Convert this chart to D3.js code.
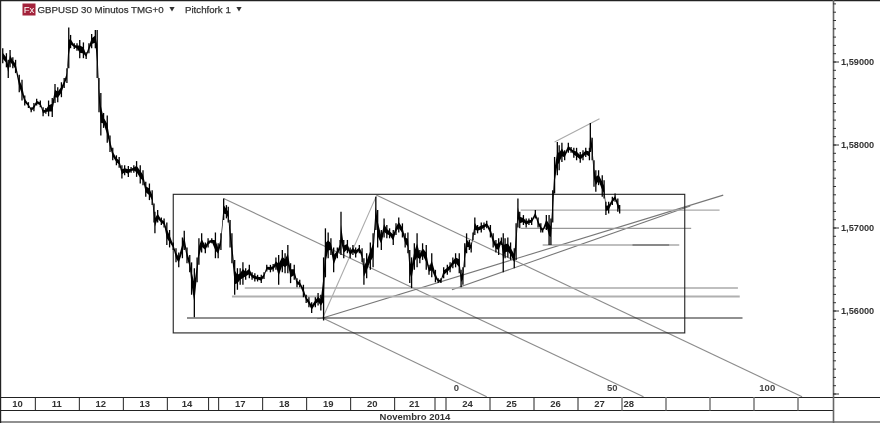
<!DOCTYPE html>
<html>
<head>
<meta charset="utf-8">
<script src="https://cdn.jsdelivr.net/npm/d3@7"></script>
<style>
  html, body { margin: 0; padding: 0; background: #fff; }
  svg { display: block; font-family: "Liberation Sans", Arial, sans-serif; }
  .y-axis path, .x-axis path { display: none; }
</style>
</head>
<body>
<script>
// 30 minute bars, position counted in bars from the left edge of the chart
let barIndex = [3,7,9,11,14,17,21,24,27,31,34,37,40,44,47,50,53,57,60,63,67,70,73,75,77,81,84,87,91,94,97,100,104,106,108,110,113,117,120,123,127,130,133,136,140,143,146,149,153,156,159,163,166,168,169,172,176,179,182,185,189,192,195,199,201,204,207,209,212,215,217,220,224,227,231,235,238,241,244,247,249,251,253,256,259,262,265,268,272,275,278,281,285,288,291,295,298,301,304,308,311,314,317,321,324,327,331,334,337,340,344,347,350,353,355,358,361,364,368,371,372,375,379,382,385,388,392,395,397,400,404,407,410,412,416,419,422,425,429,432,435,439,442,445,447,449,452,455,458,461,465,468,471,475,478,481,484,488,491,494,497,501,503,505,507,509,512,514,516,518,521,525,528,531,535,538,541,544,547,549,551,554,557,561,563,565,567,571,574,577,580,584,587,590,592,596,599,601,603,605,608,610,613,616,620,623,626,629,633,636,639,643,644,646,648,650,653,657,659,661,664,668,671,674,676];

let highs = [1.5916,1.5910,1.5902,1.5914,1.5905,1.5902,1.5884,1.5878,1.5859,1.5851,1.5845,1.5850,1.5855,1.5853,1.5845,1.5844,1.5853,1.5856,1.5873,1.5869,1.5875,1.5880,1.5892,1.5941,1.5932,1.5922,1.5922,1.5926,1.5923,1.5911,1.5922,1.5933,1.5938,1.5938,1.5880,1.5862,1.5838,1.5835,1.5811,1.5796,1.5787,1.5785,1.5775,1.5775,1.5774,1.5773,1.5775,1.5780,1.5775,1.5769,1.5755,1.5753,1.5745,1.5729,1.5719,1.5721,1.5712,1.5711,1.5706,1.5697,1.5682,1.5675,1.5670,1.5688,1.5696,1.5676,1.5667,1.5658,1.5651,1.5664,1.5687,1.5693,1.5682,1.5687,1.5687,1.5694,1.5681,1.5693,1.5735,1.5727,1.5725,1.5709,1.5693,1.5661,1.5651,1.5651,1.5658,1.5651,1.5655,1.5646,1.5645,1.5643,1.5643,1.5646,1.5655,1.5655,1.5656,1.5664,1.5667,1.5673,1.5669,1.5679,1.5657,1.5655,1.5639,1.5637,1.5631,1.5619,1.5616,1.5610,1.5616,1.5621,1.5619,1.5664,1.5699,1.5694,1.5687,1.5676,1.5676,1.5685,1.5719,1.5685,1.5685,1.5676,1.5679,1.5676,1.5679,1.5675,1.5663,1.5669,1.5682,1.5693,1.5737,1.5721,1.5697,1.5711,1.5703,1.5699,1.5697,1.5705,1.5712,1.5705,1.5693,1.5694,1.5673,1.5664,1.5681,1.5693,1.5673,1.5681,1.5679,1.5655,1.5669,1.5649,1.5639,1.5639,1.5652,1.5655,1.5658,1.5664,1.5669,1.5669,1.5649,1.5652,1.5681,1.5693,1.5685,1.5682,1.5694,1.5712,1.5703,1.5706,1.5706,1.5708,1.5703,1.5693,1.5685,1.5687,1.5688,1.5693,1.5687,1.5688,1.5682,1.5675,1.5705,1.5735,1.5719,1.5715,1.5711,1.5711,1.5712,1.5721,1.5712,1.5705,1.5699,1.5715,1.5715,1.5711,1.5745,1.5785,1.5803,1.5799,1.5802,1.5793,1.5802,1.5797,1.5796,1.5796,1.5791,1.5793,1.5796,1.5796,1.5826,1.5808,1.5781,1.5769,1.5769,1.5763,1.5757,1.5731,1.5731,1.5737,1.5741,1.5735,1.5727];

let lows = [1.5898,1.5893,1.5880,1.5893,1.5892,1.5886,1.5863,1.5853,1.5847,1.5844,1.5839,1.5840,1.5847,1.5845,1.5834,1.5837,1.5834,1.5833,1.5850,1.5851,1.5857,1.5868,1.5874,1.5892,1.5916,1.5915,1.5913,1.5904,1.5904,1.5903,1.5910,1.5916,1.5916,1.5880,1.5839,1.5811,1.5820,1.5802,1.5791,1.5781,1.5775,1.5772,1.5759,1.5763,1.5761,1.5766,1.5766,1.5761,1.5753,1.5751,1.5737,1.5733,1.5727,1.5706,1.5693,1.5706,1.5703,1.5700,1.5679,1.5676,1.5673,1.5658,1.5652,1.5663,1.5673,1.5657,1.5646,1.5619,1.5592,1.5634,1.5655,1.5670,1.5669,1.5676,1.5681,1.5663,1.5663,1.5673,1.5709,1.5711,1.5706,1.5676,1.5657,1.5619,1.5625,1.5631,1.5631,1.5637,1.5639,1.5637,1.5635,1.5635,1.5633,1.5638,1.5647,1.5646,1.5647,1.5649,1.5631,1.5646,1.5645,1.5645,1.5633,1.5637,1.5628,1.5628,1.5616,1.5609,1.5604,1.5597,1.5604,1.5606,1.5600,1.5588,1.5640,1.5663,1.5667,1.5646,1.5663,1.5669,1.5667,1.5663,1.5669,1.5663,1.5667,1.5664,1.5669,1.5658,1.5631,1.5639,1.5649,1.5652,1.5697,1.5676,1.5673,1.5688,1.5687,1.5687,1.5679,1.5691,1.5694,1.5688,1.5676,1.5669,1.5633,1.5627,1.5649,1.5652,1.5657,1.5661,1.5649,1.5643,1.5640,1.5634,1.5633,1.5633,1.5639,1.5643,1.5646,1.5651,1.5652,1.5645,1.5628,1.5631,1.5652,1.5669,1.5673,1.5670,1.5685,1.5691,1.5693,1.5694,1.5697,1.5699,1.5688,1.5676,1.5670,1.5667,1.5679,1.5646,1.5663,1.5664,1.5661,1.5651,1.5661,1.5700,1.5699,1.5703,1.5700,1.5703,1.5703,1.5711,1.5700,1.5694,1.5694,1.5697,1.5679,1.5679,1.5706,1.5741,1.5763,1.5769,1.5779,1.5781,1.5790,1.5790,1.5784,1.5781,1.5778,1.5781,1.5785,1.5781,1.5791,1.5781,1.5749,1.5743,1.5751,1.5737,1.5735,1.5715,1.5717,1.5727,1.5731,1.5719,1.5717];

// day separators and day names on the date band
let dayTicks = [38,86,134,182,227,238,286,334,382,430,474,486,534,582,630,678,726,774,822,870];
let dayNames = ['10','11','12','13','14','17','18','19','20','21','24','25','26','27','28'];
let dayNameBars = [19,62,110,158,204,262,310,358,406,452,510,558,606,654,686];

let majorPrices = [1.55,1.56,1.57,1.58,1.59];
let pricesShown = [1.56,1.57,1.58,1.59];
let minorPrices = d3.range(1550,1598).map(d => d / 1000);

// chart drawings, in bars and prices
let boxBars = [189,747];
let boxPrices = [1.5740,1.5573];

let hLinePrices = [1.5591,1.5627,1.5617,1.5721,1.5699,1.5679,1.5679];
let hLineFrom = [204,267,253,568,568,592,690];
let hLineTo = [810,805,807,785,754,741,730];
let hLineColor = ['#222','#aaa','#b0b0b0','#aaa','#999','#aaa','#777'];
let hLineWidth = [1.2,1.5,2,1.4,1.2,1.5,1.5];

let rayBarsA = [244,411,352,352,346,352,493,605];
let rayPriceA = [1.5735,1.5739,1.5591,1.5591,1.5590,1.5591,1.5625,1.5803];
let rayBarsB = [702,875,531,411,352,789,753,654];
let rayPriceB = [1.5496,1.5496,1.5496,1.5739,1.5591,1.5739,1.5726,1.5831];
let rayColor = ['#8c8c8c','#8c8c8c','#8c8c8c','#aaa','#aaa','#777','#777','#aaa'];

let forkNames = ['0','50','100'];
let forkNameBars = [498,668,837];
let forkNamePrice = 1.5503;

let svgWidth = 880, svgHeight = 423;
let bandTop = 397, bandMid = 410.5, bandBottom = 422, axisX = 833;

let svg = d3.select('body').append('svg')
    .attr('width', svgWidth)
    .attr('height', svgHeight);

// the reference is a soft jpeg, so everything gets a very small blur
svg.append('filter').attr('id', 'soft')
    .append('feGaussianBlur').attr('stdDeviation', 0.35);

let chart = svg.append('g').attr('filter', 'url(#soft)');

let xScale = d3.scaleLinear().domain([0, 960]).range([0, svgWidth]);
let yScale = d3.scaleLinear().domain([1.54958, 1.59741]).range([bandTop, 0]);

// fork and level lines go under the price
chart.selectAll('.ray')
    .data(rayBarsA)
    .enter().append('line')
    .attr('x1', d => xScale(d))
    .attr('y1', (d, i) => yScale(rayPriceA[i]))
    .attr('x2', (d, i) => xScale(rayBarsB[i]))
    .attr('y2', (d, i) => yScale(rayPriceB[i]))
    .attr('stroke', (d, i) => rayColor[i])
    .attr('stroke-width', 1.1);

chart.selectAll('.level')
    .data(hLinePrices)
    .enter().append('line')
    .attr('x1', (d, i) => xScale(hLineFrom[i]))
    .attr('x2', (d, i) => xScale(hLineTo[i]))
    .attr('y1', d => yScale(d))
    .attr('y2', d => yScale(d))
    .attr('stroke', (d, i) => hLineColor[i])
    .attr('stroke-width', (d, i) => hLineWidth[i]);

chart.append('rect')
    .attr('x', xScale(boxBars[0]))
    .attr('y', yScale(boxPrices[0]))
    .attr('width', xScale(boxBars[1]) - xScale(boxBars[0]))
    .attr('height', yScale(boxPrices[1]) - yScale(boxPrices[0]))
    .attr('fill', 'none')
    .attr('stroke', '#222')
    .attr('stroke-width', 1.1);

// price body, then the single bars on top so wicks stick out
let body = d3.area()
    .x((d, i) => xScale(barIndex[i]))
    .y0((d, i) => yScale(lows[i] + (highs[i] - lows[i]) * 0.3))
    .y1((d, i) => yScale(highs[i] - (highs[i] - lows[i]) * 0.3));

chart.append('path')
    .datum(highs)
    .attr('fill', '#000')
    .attr('d', body);

chart.selectAll('.bar')
    .data(barIndex)
    .enter().append('line')
    .attr('x1', d => xScale(d))
    .attr('x2', d => xScale(d))
    .attr('y1', (d, i) => yScale(highs[i]))
    .attr('y2', (d, i) => yScale(lows[i]))
    .attr('stroke', '#000')
    .attr('stroke-width', 1.3);

// outer frame and date band
let frame = [
    [0, 0.5, svgWidth, 0.5, '#222', 1.4],
    [0.5, 0, 0.5, svgHeight, '#222', 1.4],
    [0, bandTop + 0.5, svgWidth, bandTop + 0.5, '#222', 1],
    [0, bandMid, axisX, bandMid, '#222', 1],
    [0, bandBottom, svgWidth, bandBottom, '#222', 1.2],
    [axisX + 0.5, 0, axisX + 0.5, svgHeight, '#666', 1.6]
];
chart.selectAll('.frame')
    .data(frame)
    .enter().append('line')
    .attr('x1', d => d[0]).attr('y1', d => d[1])
    .attr('x2', d => d[2]).attr('y2', d => d[3])
    .attr('stroke', d => d[4])
    .attr('stroke-width', d => d[5]);

let xAxis = d3.axisBottom(xScale)
    .tickValues(dayTicks)
    .tickSize(bandMid - bandTop)
    .tickFormat('');
let xAxisG = chart.append('g').attr('class', 'x-axis')
    .attr('transform', 'translate(0,' + bandTop + ')')
    .call(xAxis);
xAxisG.selectAll('.tick line')
    .attr('stroke', d => d > 640 ? '#777' : '#222')
    .attr('stroke-width', d => d > 640 ? 1.5 : 1);

chart.append('g').attr('class', 'y-axis')
    .attr('transform', 'translate(' + axisX + ',0)')
    .call(d3.axisRight(yScale).tickValues(minorPrices).tickSize(3).tickFormat(''))
    .selectAll('.tick line').attr('stroke', '#333');

let yAxisG = chart.append('g').attr('class', 'y-axis')
    .attr('transform', 'translate(' + axisX + ',0)')
    .call(d3.axisRight(yScale)
        .tickValues(majorPrices)
        .tickSize(6)
        .tickPadding(2)
        .tickFormat(d => pricesShown.includes(d) ? d.toFixed(5).replace('.', ',') : ''));
yAxisG.selectAll('.tick line').attr('stroke', '#333');
yAxisG.selectAll('text')
    .attr('font-family', '"Liberation Sans", Arial, sans-serif')
    .attr('font-size', 9.2)
    .attr('font-weight', 'bold')
    .attr('fill', '#333');

// text
chart.selectAll('.day')
    .data(dayNames)
    .enter().append('text')
    .attr('x', (d, i) => xScale(dayNameBars[i]))
    .attr('y', 407)
    .attr('text-anchor', 'middle')
    .attr('font-size', 9.5)
    .attr('font-weight', 'bold')
    .attr('fill', '#333')
    .text(d => d);

chart.append('text')
    .attr('x', 415).attr('y', 419.5)
    .attr('text-anchor', 'middle')
    .attr('font-size', 9.5)
    .attr('font-weight', 'bold')
    .attr('fill', '#333')
    .text('Novembro 2014');

chart.selectAll('.forkName')
    .data(forkNames)
    .enter().append('text')
    .attr('x', (d, i) => xScale(forkNameBars[i]))
    .attr('y', yScale(forkNamePrice))
    .attr('text-anchor', 'middle')
    .attr('font-size', 9.5)
    .attr('font-weight', 'bold')
    .attr('fill', '#444')
    .text(d => d);

// toolbar at the top
chart.append('rect')
    .attr('x', 22.5).attr('y', 3.5)
    .attr('width', 13).attr('height', 12)
    .attr('fill', '#a3243a');
chart.append('text')
    .attr('x', 29).attr('y', 13)
    .attr('text-anchor', 'middle')
    .attr('font-size', 9.5)
    .attr('fill', '#fff')
    .text('Fx');

chart.append('text')
    .attr('x', 37.5).attr('y', 12.5)
    .attr('font-size', 9.7)
    .attr('fill', '#333')
    .attr('stroke', '#333')
    .attr('stroke-width', 0.25)
    .text('GBPUSD 30 Minutos TMG+0');

chart.append('text')
    .attr('x', 185).attr('y', 12.5)
    .attr('font-size', 9.7)
    .attr('fill', '#333')
    .attr('stroke', '#333')
    .attr('stroke-width', 0.25)
    .text('Pitchfork 1');

let arrow = d3.symbol().type(d3.symbolTriangle).size(12);
chart.selectAll('.arrow')
    .data([172, 239])
    .enter().append('path')
    .attr('d', arrow)
    .attr('transform', d => 'translate(' + d + ',8.5) rotate(180)')
    .attr('fill', '#333');
</script>
</body>
</html>
